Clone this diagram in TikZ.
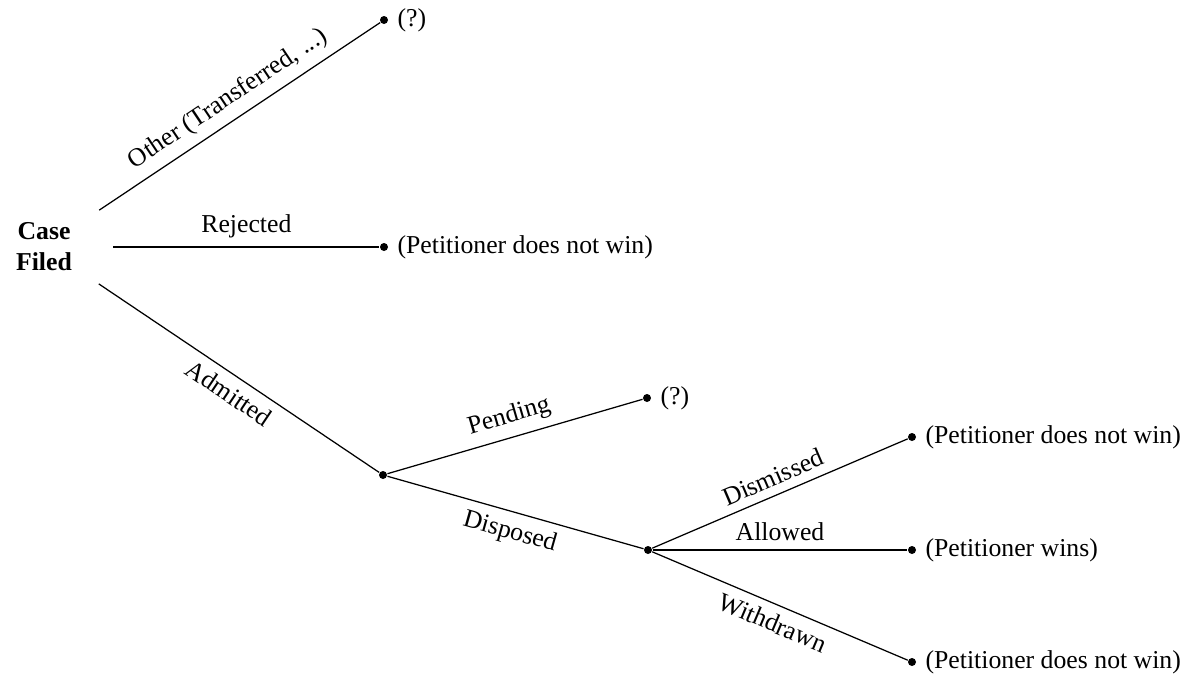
\documentclass[tikz,border=0pt]{standalone}
\usepackage{fontspec}
\setmainfont{Liberation Serif}
\begin{document}
\begin{tikzpicture}[x=0.4pt,y=-0.4pt,
  font=\fontsize{10.3pt}{12.4pt}\selectfont,
  line width=0.5pt,
  dot/.style={circle,fill,inner sep=0pt,minimum size=3.2pt},
  lab/.style={sloped,midway,above},
  labb/.style={sloped,midway,below},
  outcome/.style={anchor=west}]
\useasboundingbox (0,0) rectangle (1196,681);
\node[font=\fontsize{10.3pt}{12.4pt}\selectfont\bfseries, align=center,
      minimum width=55pt, minimum height=29pt, inner sep=0pt] (root) at (44,247) {Case\\Filed};
\node[dot] (o1) at (384,20) {};
\node[dot] (o2) at (384,247) {};
\node[dot] (o3) at (383,475) {};
\node[dot] (p) at (647,398) {};
\node[dot] (d) at (648,550) {};
\node[dot] (dis) at (912,437) {};
\node[dot] (al) at (912,550) {};
\node[dot] (wd) at (912,662) {};
\node[outcome] (o1t) at (o1.east) {(?)};
\node[outcome] (o2t) at (o2.east) {(Petitioner does not win)};
\node[outcome] (pt) at (p.east) {(?)};
\node[outcome] (dist) at (dis.east) {(Petitioner does not win)};
\node[outcome] (alt) at (al.east) {(Petitioner wins)};
\node[outcome] (wdt) at (wd.east) {(Petitioner does not win)};
\draw (root) -- (o1) node[lab] {Other (Transferred, ...)};
\draw (root) -- (o2) node[lab] {Rejected};
\draw (root) -- (o3) node[labb] {Admitted};
\draw (o3) -- (p) node[lab] {Pending};
\draw (o3) -- (d) node[labb] {Disposed};
\draw (d) -- (dis) node[lab] {Dismissed};
\draw (d) -- (al) node[lab] {Allowed};
\draw (d) -- (wd) node[labb] {Withdrawn};
\end{tikzpicture}
\end{document}
